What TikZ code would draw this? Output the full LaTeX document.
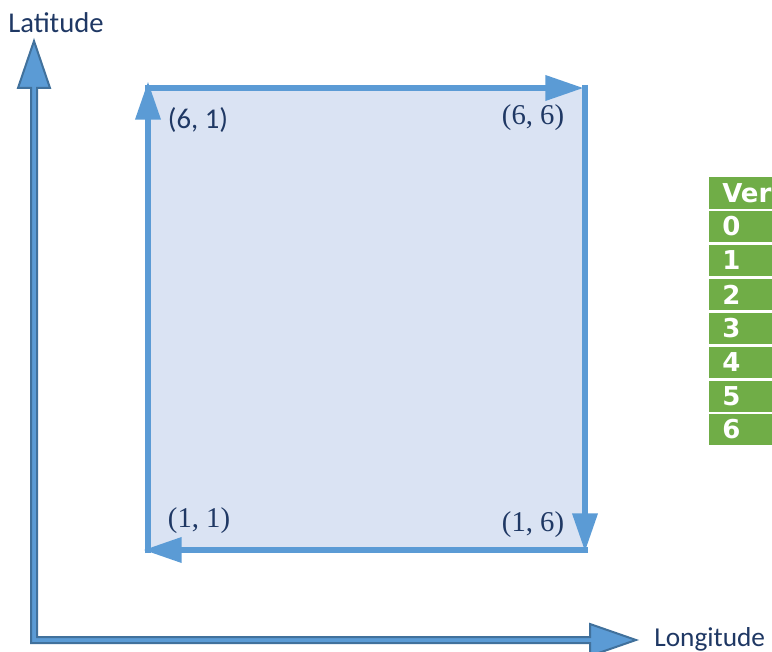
\documentclass[tikz,border=0pt]{standalone}
\usepackage{fontspec}
\setmainfont{Carlito}
\newfontfamily\serifl{Liberation Serif}
\newfontfamily\tabfont{DejaVu Sans}
\usetikzlibrary{arrows.meta}
\definecolor{edgeblue}{HTML}{5B9BD5}
\definecolor{fillblue}{HTML}{DAE3F3}
\definecolor{axisline}{HTML}{41719C}
\definecolor{navy}{HTML}{1F3864}
\definecolor{cellgreen}{HTML}{70AD47}
\begin{document}
\begin{tikzpicture}[x=0.75pt,y=-0.75pt,
  edge/.style={draw=edgeblue,line width=5pt,-{Triangle[length=29pt,width=18pt]}},
  lbl/.style={text=navy,font=\fontsize{21.5}{24}\selectfont,inner sep=0},
  slbl/.style={text=navy,font=\serifl\fontsize{21.5}{24}\selectfont,inner sep=0},
  cellbox/.style={fill=cellgreen},
  celltxt/.style={text=white,font=\tabfont\bfseries\fontsize{19.5}{22}\selectfont,anchor=west,inner sep=0},
  axis/.style={fill=edgeblue,draw=axisline,line width=1.5pt,line join=miter}]
\useasboundingbox (0,0) rectangle (772,652);
\clip (0,0) rectangle (772,652);

% axes
\coordinate (origin) at (34,640);
\draw[axis] (31,88) -- (18,88) -- (34,41) -- (50,88) -- (37,88) -- (37,637)
  -- (590,637) -- (590,624) -- (636,640) -- (590,656) -- (590,643) -- (31,643) -- cycle;
\node[lbl,anchor=center] (lat) at (56,23) {Latitude};
\node[lbl,anchor=base west,font=\fontsize{20.5}{24}\selectfont] (lon) at (654,646) {Longitude};

% region
\fill[fillblue] (148,88) rectangle (585,550);
\coordinate (t1) at (145,88);  \coordinate (t2) at (584,88);
\coordinate (r1) at (585,85);  \coordinate (r2) at (585,552);
\coordinate (b1) at (588,550); \coordinate (b2) at (143,550);
\coordinate (l1) at (148,553); \coordinate (l2) at (148,81);
\draw[edge] (t1) -- (t2);
\draw[edge] (r1) -- (r2);
\draw[edge] (b1) -- (b2);
\draw[edge] (l1) -- (l2);

\node[lbl] (p61) at (198,120) {(6, 1)};
\node[slbl] (p66) at (533,118) {(6, 6)};
\node[slbl] (p11) at (199,521) {(1, 1)};
\node[slbl] (p16) at (533,525) {(1, 6)};

% table
\fill[cellbox] (709,177) rectangle (780,209);
\node[celltxt] (hdr) at (722,193) {Ver};
\fill[cellbox] (709,211) rectangle (780,242);
\node[celltxt] (c0) at (722,226.5) {0};
\fill[cellbox] (709,245) rectangle (780,276);
\node[celltxt] (c1) at (722,260.5) {1};
\fill[cellbox] (709,279) rectangle (780,310);
\node[celltxt] (c2) at (722,294.5) {2};
\fill[cellbox] (709,313) rectangle (780,344);
\node[celltxt] (c3) at (722,328.5) {3};
\fill[cellbox] (709,347) rectangle (780,378);
\node[celltxt] (c4) at (722,362.5) {4};
\fill[cellbox] (709,381) rectangle (780,412);
\node[celltxt] (c5) at (722,396.5) {5};
\fill[cellbox] (709,414) rectangle (780,445);
\node[celltxt] (c6) at (722,429.5) {6};
\end{tikzpicture}
\end{document}
